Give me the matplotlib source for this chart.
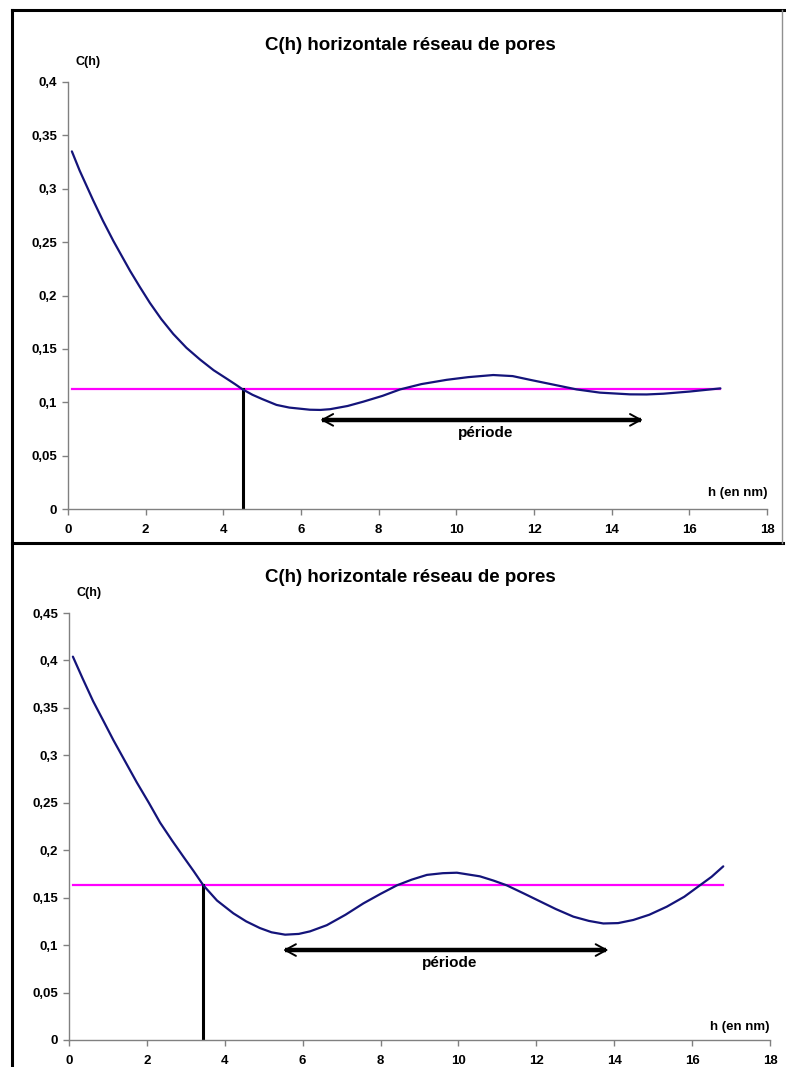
import matplotlib
matplotlib.use("Agg")
import matplotlib.pyplot as plt
from matplotlib.lines import Line2D

plt.rcParams['font.family'] = ['Liberation Sans', 'DejaVu Sans']

title = "C(h) horizontale réseau de pores"
ylabel = "C(h)"
xlabel = "h (en nm)"
period_label = "période"

# Top panel
h_top = [0.1, 0.3, 0.65, 0.9, 1.17, 1.4, 1.6, 1.85, 2.11, 2.4, 2.71, 3.05, 3.4, 3.75,
         4.09, 4.3, 4.5, 4.75, 5.0, 5.37, 5.7, 6.23, 6.5, 6.75, 7.2, 7.6, 8.1, 8.55,
         9.1, 9.75, 10.3, 10.95, 11.45, 11.9, 12.5, 13.1, 13.7, 14.47, 14.9, 15.33,
         16.0, 16.4, 16.8]
c_top = [0.335, 0.317, 0.289, 0.270, 0.251, 0.236, 0.223, 0.208, 0.193, 0.178, 0.164,
         0.151, 0.140, 0.130, 0.122, 0.117, 0.112, 0.107, 0.103, 0.0975, 0.0950, 0.093,
         0.0928, 0.0935, 0.0965, 0.1005, 0.106, 0.112, 0.117, 0.121, 0.1235, 0.1255,
         0.1245, 0.121, 0.1165, 0.112, 0.109, 0.1074, 0.1073, 0.108, 0.110, 0.1115, 0.113]
level_top = 0.112
cross_top = 4.5
arrow_top = (6.5, 14.8, 0.0835)
yticks_top = [0, 0.05, 0.1, 0.15, 0.2, 0.25, 0.3, 0.35, 0.4]
ylabels_top = ["0", "0,05", "0,1", "0,15", "0,2", "0,25", "0,3", "0,35", "0,4"]

# Bottom panel
h_bot = [0.1, 0.35, 0.62, 0.9, 1.14, 1.45, 1.74, 2.05, 2.34, 2.65, 2.94, 3.2, 3.45,
         3.8, 4.22, 4.55, 4.9, 5.2, 5.55, 5.9, 6.19, 6.62, 7.1, 7.56, 8.0, 8.42, 8.8,
         9.19, 9.6, 9.96, 10.55, 10.9, 11.24, 11.7, 12.1, 12.5, 12.95, 13.35, 13.72,
         14.1, 14.49, 14.9, 15.35, 15.8, 16.2, 16.5, 16.8]
c_bot = [0.404, 0.381, 0.357, 0.335, 0.316, 0.293, 0.2715, 0.250, 0.229, 0.210, 0.193,
         0.178, 0.163, 0.147, 0.1335, 0.125, 0.118, 0.1135, 0.111, 0.1118, 0.1145, 0.121,
         0.132, 0.144, 0.154, 0.163, 0.169, 0.174, 0.1758, 0.1763, 0.1725, 0.168, 0.163,
         0.154, 0.146, 0.138, 0.130, 0.1255, 0.1228, 0.1232, 0.1265, 0.132, 0.1405,
         0.151, 0.163, 0.172, 0.183]
level_bot = 0.163
cross_bot = 3.45
arrow_bot = (5.5, 13.85, 0.0948)
yticks_bot = [0, 0.05, 0.1, 0.15, 0.2, 0.25, 0.3, 0.35, 0.4, 0.45]
ylabels_bot = ["0", "0,05", "0,1", "0,15", "0,2", "0,25", "0,3", "0,35", "0,4", "0,45"]

xticks = [0, 2, 4, 6, 8, 10, 12, 14, 16, 18]

W, H = 786, 1067
fig = plt.figure(figsize=(W / 100, H / 100), dpi=100)

def px(x0, y0, x1, y1):
    return [x0 / W, (H - y1) / H, (x1 - x0) / W, (y1 - y0) / H]

ax_top = fig.add_axes(px(68, 82, 767, 509))
ax_bot = fig.add_axes(px(69, 613, 770, 1040))

curve_col = "#14147a"
spine_col = "#808080"

def draw(ax, h, c, level, cross, arrow, yticks, ylabels, ymax):
    ax.plot(h, c, color=curve_col, lw=1.6, solid_capstyle="round",
            solid_joinstyle="round", zorder=3)
    ax.plot([h[0], h[-1]], [level, level], color="#ff00ff", lw=1.6, zorder=2)
    ax.plot([cross, cross], [0, level], color="black", lw=2.2, zorder=2)
    ax.plot([arrow[0] + 0.05, arrow[1] - 0.05], [arrow[2], arrow[2]], color="black",
            lw=3.2, solid_capstyle="butt", zorder=2)
    ax.annotate("", xy=(arrow[1], arrow[2]), xytext=(arrow[0], arrow[2]),
                arrowprops=dict(arrowstyle="<->,head_length=0.55,head_width=0.3",
                                color="black", lw=1.4,
                                mutation_scale=14, shrinkA=0, shrinkB=0))
    ax.text((arrow[0] + arrow[1]) / 2 + 0.1, arrow[2] - 0.006, period_label,
            ha="center", va="top", fontsize=11, fontweight="bold")
    ax.set_xlim(0, 18)
    ax.set_ylim(0, ymax)
    ax.set_xticks(xticks)
    ax.set_xticklabels([str(t) for t in xticks], fontsize=9.5, fontweight="bold")
    ax.set_yticks(yticks)
    ax.set_yticklabels(ylabels, fontsize=9.5, fontweight="bold")
    for s in ["top", "right"]:
        ax.spines[s].set_visible(False)
    for s in ["left", "bottom"]:
        ax.spines[s].set_color(spine_col)
        ax.spines[s].set_linewidth(1.0)
    ax.tick_params(direction="out", length=4, width=1, color=spine_col, pad=4)
    ax.tick_params(axis="x", pad=7)
    ax.set_facecolor("none")

draw(ax_top, h_top, c_top, level_top, cross_top, arrow_top, yticks_top, ylabels_top, 0.4)
draw(ax_bot, h_bot, c_bot, level_bot, cross_bot, arrow_bot, yticks_bot, ylabels_bot, 0.45)

def ftext(x, y, s, **kw):
    fig.text(x / W, 1 - y / H, s, **kw)

ftext(410, 46, title, ha="center", va="center", fontsize=13.5, fontweight="bold")
ftext(410, 577, title, ha="center", va="center", fontsize=13.5, fontweight="bold")
ftext(88, 62, ylabel, ha="center", va="center", fontsize=9, fontweight="bold")
ftext(89, 593, ylabel, ha="center", va="center", fontsize=9, fontweight="bold")
ftext(768, 493, xlabel, ha="right", va="center", fontsize=9.5, fontweight="bold")
ftext(770, 1027, xlabel, ha="right", va="center", fontsize=9.5, fontweight="bold")

def fline(x0, y0, x1, y1, color="black", lw=2.2):
    fig.add_artist(Line2D([x0 / W, x1 / W], [1 - y0 / H, 1 - y1 / H],
                          transform=fig.transFigure, color=color, lw=lw))

fline(12, 10, 12, 1067)
fline(12, 10, 786, 10)
fline(12, 543, 783, 543)
fline(782, 10, 782, 543, color="#909090", lw=1)

fig.savefig("out.png", dpi=100)
